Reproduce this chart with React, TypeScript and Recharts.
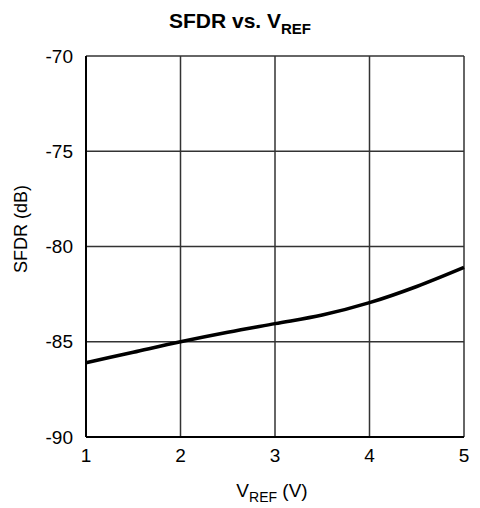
import React from "react";
import { LineChart, Line, XAxis, YAxis, CartesianGrid } from "recharts";

const vref = [1, 1.5, 2, 2.5, 3, 3.5, 4, 4.5, 5];
const sfdr = [-86.1, -85.55, -85.0, -84.5, -84.05, -83.6, -82.95, -82.1, -81.1];
const xTicks = [1, 2, 3, 4, 5];
const yTicks = [-90, -85, -80, -75, -70];

const data = vref.map((v, i) => ({ vref: v, sfdr: sfdr[i] }));

const FONT = "'Liberation Sans', Arial, Helvetica, sans-serif";

export default function App() {
  return (
    <div style={{ position: "absolute", left: 0, top: 0, background: "#fff" }}>
      <LineChart
        width={480}
        height={508}
        data={data}
        margin={{ top: 56, right: 16, left: 0, bottom: 0 }}
        style={{ fontFamily: FONT }}
      >
        <text x={240} y={28} textAnchor="middle" fontFamily={FONT} fontWeight="bold" fontSize={21} fill="#000">
          <tspan>SFDR vs. V</tspan>
          <tspan fontSize={15} dy={6}>REF</tspan>
        </text>
        <text
          x={27}
          y={229}
          textAnchor="middle"
          fontFamily={FONT}
          fontSize={18}
          fill="#000"
          transform="rotate(-90, 27, 229)"
        >
          SFDR (dB)
        </text>
        <text x={272} y={497} textAnchor="middle" fontFamily={FONT} fontSize={19} fill="#000">
          <tspan>V</tspan>
          <tspan fontSize={14} dy={5}>REF</tspan>
          <tspan dy={-5}> (V)</tspan>
        </text>
        <CartesianGrid stroke="#333" strokeWidth={1.5} vertical horizontal />
        <XAxis
          dataKey="vref"
          type="number"
          domain={[1, 5]}
          ticks={xTicks}
          height={71}
          tickSize={0}
          tickMargin={12}
          tickLine={false}
          axisLine={{ stroke: "#000", strokeWidth: 2 }}
          tick={{ fill: "#000", fontSize: 19, fontFamily: FONT }}
        />
        <YAxis
          type="number"
          domain={[-90, -70]}
          ticks={yTicks}
          width={86}
          tickSize={0}
          tickMargin={13}
          tickLine={false}
          axisLine={{ stroke: "#000", strokeWidth: 2 }}
          tick={{ fill: "#000", fontSize: 19, fontFamily: FONT }}
        />
        <Line
          type="monotone"
          dataKey="sfdr"
          stroke="#000"
          strokeWidth={3.5}
          dot={false}
          isAnimationActive={false}
        />
      </LineChart>
    </div>
  );
}
